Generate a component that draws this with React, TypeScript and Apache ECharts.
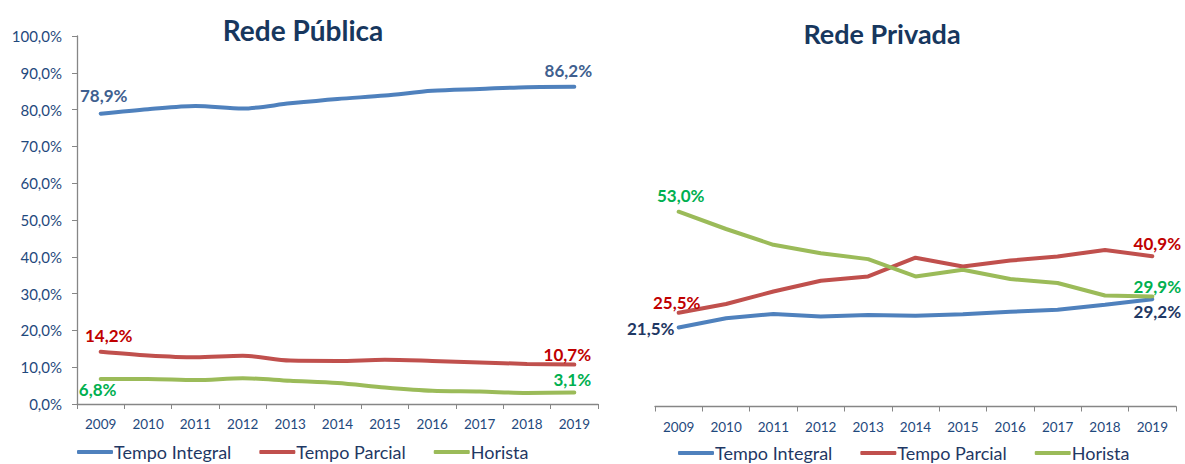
import React, { useEffect, useRef } from "react";
import * as echarts from "echarts";

const years = ["2009", "2010", "2011", "2012", "2013", "2014", "2015", "2016", "2017", "2018", "2019"];
const seriesNames = ["Tempo Integral", "Tempo Parcial", "Horista"];

const pubIntegral = [78.9, 80.1, 81.0, 80.3, 81.7, 82.9, 83.8, 85.1, 85.6, 86.1, 86.2];
const pubParcial = [14.2, 13.2, 12.7, 13.1, 11.8, 11.7, 12.0, 11.7, 11.3, 10.9, 10.7];
const pubHorista = [6.8, 6.8, 6.5, 7.0, 6.3, 5.7, 4.5, 3.6, 3.4, 3.0, 3.1];

const privIntegral = [21.5, 24.0, 25.2, 24.5, 24.9, 24.7, 25.1, 25.8, 26.3, 27.7, 29.2];
const privParcial = [25.5, 27.9, 31.3, 34.2, 35.4, 40.5, 38.1, 39.7, 40.8, 42.6, 40.9];
const privHorista = [53.0, 48.3, 44.0, 41.7, 40.1, 35.4, 37.2, 34.7, 33.6, 30.2, 29.9];

const titles = ["Rede Pública", "Rede Privada"];
const yTicks = [0, 10, 20, 30, 40, 50, 60, 70, 80, 90, 100];

const FONT = "Lato, 'Open Sans', sans-serif";
const C_BLUE = "#4F81BD";
const C_RED = "#C0504D";
const C_GREEN = "#9BBB59";
const AXIS_TXT = "#1F497D";
const LEG_TXT = "#1F3864";
const TITLE_C = "#17375E";

const fmt = (v: number) => v.toFixed(1).replace(".", ",") + "%";

type LblCfg = { offset: number[]; color: string };

function withLabels(values: number[], first: LblCfg, last: LblCfg) {
  return values.map((v, i) => {
    if (i === 0 || i === values.length - 1) {
      const c = i === 0 ? first : last;
      return {
        value: v,
        label: {
          show: true,
          position: "inside",
          offset: c.offset,
          color: c.color,
          fontFamily: FONT,
          fontWeight: "bold",
          fontSize: 17,
          formatter: (p: any) => fmt(p.value),
        },
      };
    }
    return v;
  });
}

function lineSeries(name: string, color: string, idx: number, data: any[], smooth: any) {
  return {
    type: "line",
    name,
    xAxisIndex: idx,
    yAxisIndex: idx,
    data,
    smooth,
    symbol: "circle",
    symbolSize: 2,
    showSymbol: true,
    lineStyle: { color, width: 4, cap: "round" },
    itemStyle: { color },
    emphasis: { disabled: true },
    z: 3,
  };
}

const axisX = (gridIndex: number) => ({
  type: "category",
  gridIndex,
  data: years,
  boundaryGap: true,
  axisLine: { lineStyle: { color: "#868686", width: 1.3 } },
  axisTick: { show: true, length: 5, lineStyle: { color: "#868686" } },
  axisLabel: { color: AXIS_TXT, fontFamily: FONT, fontSize: 13.5, margin: 13 },
  splitLine: { show: false },
});

const legendCfg = (left: number, top: number) => ({
  data: seriesNames,
  left,
  top,
  icon: "roundRect",
  itemWidth: 36,
  itemHeight: 4,
  itemGap: 28,
  textStyle: { color: LEG_TXT, fontFamily: FONT, fontSize: 18, padding: [0, 0, 0, -4] },
});

export default function App() {
  const ref = useRef<HTMLDivElement>(null);
  useEffect(() => {
    if (!ref.current) return;
    const chart = echarts.init(ref.current, undefined, { renderer: "svg" });
    const blueLbl = "#3F5F8F";
    const navyLbl = "#1F3864";
    const redLbl = "#C00000";
    const greenLbl = "#00B050";
    chart.setOption({
      animation: false,
      backgroundColor: "#ffffff",
      grid: [
        { left: 77, top: 36, width: 521, height: 368 },
        { left: 655, top: 39, width: 521, height: 367.5 },
      ],
      xAxis: [axisX(0), axisX(1)],
      yAxis: [
        {
          type: "value",
          gridIndex: 0,
          min: yTicks[0],
          max: yTicks[yTicks.length - 1],
          interval: 10,
          axisLine: { show: true, lineStyle: { color: "#868686", width: 1.3 } },
          axisTick: { show: true, length: 5, lineStyle: { color: "#868686" } },
          axisLabel: {
            color: AXIS_TXT,
            fontFamily: FONT,
            fontSize: 15,
            margin: 15,
            formatter: (v: number) => fmt(v),
          },
          splitLine: { show: false },
        },
        { type: "value", gridIndex: 1, min: 0, max: 100, show: false, splitLine: { show: false } },
      ],
      legend: [legendCfg(72, 438), legendCfg(673, 439)],
      graphic: [
        {
          type: "text",
          x: 303,
          y: 30,
          style: {
            text: titles[0],
            fill: TITLE_C,
            font: `bold 28px ${FONT}`,
            textAlign: "center",
            textVerticalAlign: "middle",
          },
        },
        {
          type: "text",
          x: 882,
          y: 33,
          style: {
            text: titles[1],
            fill: TITLE_C,
            font: `bold 27px ${FONT}`,
            textAlign: "center",
            textVerticalAlign: "middle",
          },
        },
      ],
      series: [
        lineSeries(seriesNames[0], C_BLUE, 0,
          withLabels(pubIntegral, { offset: [3, -18], color: blueLbl }, { offset: [-6, -16], color: blueLbl }), 0.3),
        lineSeries(seriesNames[1], C_RED, 0,
          withLabels(pubParcial, { offset: [8, -16], color: redLbl }, { offset: [-7, -10], color: redLbl }), 0.3),
        lineSeries(seriesNames[2], C_GREEN, 0,
          withLabels(pubHorista, { offset: [-3, 11], color: greenLbl }, { offset: [-2, -13], color: greenLbl }), 0.3),
        lineSeries(seriesNames[0], C_BLUE, 1,
          withLabels(privIntegral, { offset: [-28, 1], color: navyLbl }, { offset: [5, 12], color: navyLbl }), false),
        lineSeries(seriesNames[1], C_RED, 1,
          withLabels(privParcial, { offset: [-2, -10], color: redLbl }, { offset: [5, -13], color: redLbl }), false),
        lineSeries(seriesNames[2], C_GREEN, 1,
          withLabels(privHorista, { offset: [2, -16], color: greenLbl }, { offset: [5, -10], color: greenLbl }), false),
      ],
    });
    return () => chart.dispose();
  }, []);
  return (
    <div
      ref={ref}
      style={{ position: "fixed", left: 0, top: 0, width: 1185, height: 464, background: "#fff" }}
    />
  );
}
